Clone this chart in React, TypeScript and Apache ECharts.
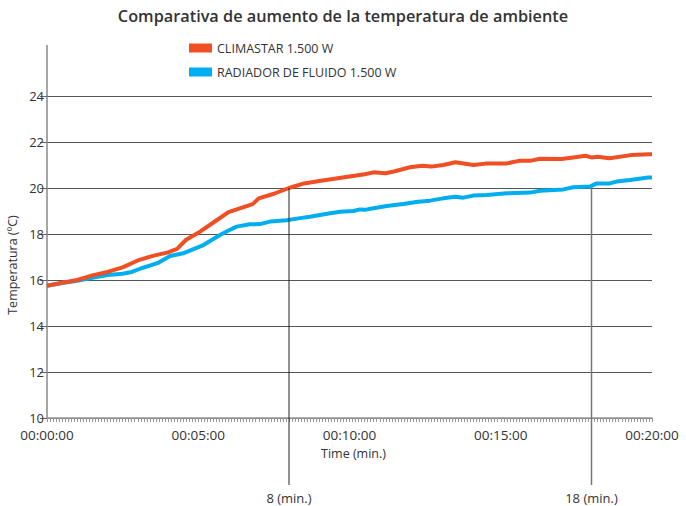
import React, { useEffect, useRef } from "react";
import * as echarts from "echarts";

const title = "Comparativa de aumento de la temperatura de ambiente";
const seriesNames = ["CLIMASTAR 1.500 W", "RADIADOR DE FLUIDO 1.500 W"];
const seriesColors = ["#F04E23", "#00AEEF"];

const climastarMinutes = [0, 0.5, 1, 1.5, 2, 2.5, 3, 3.5, 4, 4.3, 4.6, 5, 5.5, 6, 6.5, 6.8, 7, 7.5, 8, 8.5, 9, 9.5, 10, 10.5, 10.8, 11.2, 11.5, 12, 12.4, 12.7, 13.1, 13.5, 14.1, 14.5, 15.2, 15.6, 16, 16.3, 17, 17.4, 17.8, 18, 18.2, 18.6, 19.3, 19.9, 20];
const climastarTemps = [15.75, 15.88, 16.0, 16.2, 16.35, 16.55, 16.85, 17.05, 17.2, 17.35, 17.75, 18.05, 18.5, 18.95, 19.17, 19.3, 19.55, 19.75, 20.0, 20.2, 20.3, 20.4, 20.5, 20.6, 20.68, 20.64, 20.73, 20.9, 20.97, 20.93, 21.0, 21.12, 21.0, 21.06, 21.07, 21.18, 21.19, 21.27, 21.26, 21.33, 21.4, 21.33, 21.36, 21.29, 21.43, 21.47, 21.47];

const radiadorMinutes = [0, 0.5, 1, 1.5, 2, 2.5, 2.8, 3.1, 3.65, 4.07, 4.5, 5.17, 5.72, 6.0, 6.27, 6.7, 7.04, 7.37, 7.92, 8.31, 8.69, 9.36, 9.69, 10.13, 10.35, 10.5, 10.79, 11.23, 11.78, 12.27, 12.66, 13.1, 13.49, 13.76, 14.09, 14.54, 15.2, 15.97, 16.3, 17.07, 17.4, 17.95, 18.17, 18.6, 18.83, 19.27, 19.88, 20];
const radiadorTemps = [15.75, 15.87, 15.97, 16.1, 16.22, 16.27, 16.35, 16.5, 16.73, 17.04, 17.16, 17.52, 17.96, 18.15, 18.32, 18.42, 18.43, 18.54, 18.6, 18.68, 18.75, 18.9, 18.97, 19.0, 19.07, 19.05, 19.12, 19.22, 19.3, 19.4, 19.45, 19.55, 19.62, 19.58, 19.67, 19.7, 19.77, 19.8, 19.88, 19.94, 20.03, 20.06, 20.2, 20.2, 20.28, 20.35, 20.46, 20.46];

const markerMinutes = [8, 18];
const markerLabels = ["8 (min.)", "18 (min.)"];
const markerTopTemp = 20;

const xAxisName = "Time (min.)";
const yAxisName = "Temperatura (ºC)";

const FONT = "'Open Sans', sans-serif";

function fmtTime(v: number) {
  const m = Math.round(v);
  return "00:" + (m < 10 ? "0" + m : String(m)) + ":00";
}

export default function App() {
  const ref = useRef<HTMLDivElement>(null);
  useEffect(() => {
    if (!ref.current) return;
    const chart = echarts.init(ref.current, null, { renderer: "svg" });
    const option: any = {
      animation: false,
      backgroundColor: "#ffffff",
      textStyle: { fontFamily: FONT },
      title: {
        text: title,
        left: "center",
        top: 3,
        textStyle: { fontSize: 16.3, fontWeight: 600, color: "#333", fontFamily: FONT },
      },
      legend: {
        orient: "vertical",
        left: 189,
        top: 40,
        padding: 0,
        icon: "rect",
        itemWidth: 23,
        itemHeight: 9,
        itemGap: 8,
        textStyle: { fontSize: 12.5, color: "#333", fontFamily: FONT, lineHeight: 16 },
        data: seriesNames,
      },
      grid: { left: 47, right: 34, top: 96, bottom: 88, containLabel: false },
      xAxis: {
        type: "value",
        min: 0,
        max: 20,
        interval: 5,
        name: xAxisName,
        nameLocation: "middle",
        nameGap: 27,
        nameTextStyle: { fontSize: 12.5, color: "#333", fontFamily: FONT, padding: [0, 0, 0, 8] },
        axisLine: { show: true, lineStyle: { color: "#999", width: 1.5 } },
        axisTick: { show: true, length: 4, lineStyle: { color: "#999" } },
        minorTick: { show: true, splitNumber: 50, length: 4, lineStyle: { color: "#999" } },
        axisLabel: { formatter: fmtTime, fontSize: 13.5, lineHeight: 14, color: "#333", margin: 10, fontFamily: FONT },
        splitLine: { show: false },
      },
      yAxis: {
        type: "value",
        min: 10,
        max: 24,
        interval: 2,
        axisLine: { show: true, lineStyle: { color: "#888", width: 1.5 } },
        axisTick: { show: true, length: 7, lineStyle: { color: "#666" } },
        axisLabel: { fontSize: 13, lineHeight: 12, padding: [0, 0, 2, 0], color: "#333", margin: 3, fontFamily: FONT },
        splitLine: { show: true, lineStyle: { color: "#555", width: 1 } },
      },
      series: [
        {
          name: seriesNames[0],
          type: "line",
          data: climastarMinutes.map((m, i) => [m, climastarTemps[i]]),
          showSymbol: false,
          lineStyle: { color: seriesColors[0], width: 4 },
          itemStyle: { color: seriesColors[0] },
          z: 3,
        },
        {
          name: seriesNames[1],
          type: "line",
          data: radiadorMinutes.map((m, i) => [m, radiadorTemps[i]]),
          showSymbol: false,
          lineStyle: { color: seriesColors[1], width: 4 },
          itemStyle: { color: seriesColors[1] },
          z: 2,
        },
      ],
    };
    chart.setOption(option);

    const graphics: any[] = [];
    const p0 = chart.convertToPixel({ xAxisIndex: 0, yAxisIndex: 0 }, [0, 24]) as number[];
    const pBottom = chart.convertToPixel({ xAxisIndex: 0, yAxisIndex: 0 }, [0, 10]) as number[];
    graphics.push({
      type: "line",
      shape: { x1: p0[0], y1: p0[1] - 51, x2: p0[0], y2: p0[1] },
      style: { stroke: "#888", lineWidth: 1.5 },
      z: 1,
    });
    markerMinutes.forEach((m, i) => {
      const top = chart.convertToPixel({ xAxisIndex: 0, yAxisIndex: 0 }, [m, markerTopTemp]) as number[];
      graphics.push({
        type: "line",
        shape: { x1: top[0], y1: top[1], x2: top[0], y2: pBottom[1] + 67 },
        style: { stroke: i === 0 ? "#222" : "#777", lineWidth: i === 0 ? 1 : 1.5 },
        z: 5,
      });
      graphics.push({
        type: "text",
        x: top[0],
        y: pBottom[1] + 80,
        style: {
          text: markerLabels[i],
          fill: "#333",
          fontSize: 13,
          fontFamily: FONT,
          align: "center",
          verticalAlign: "middle",
        },
        z: 5,
      });
    });
    graphics.push({
      type: "text",
      x: 12,
      y: 265,
      rotation: Math.PI / 2,
      style: {
        text: yAxisName,
        fill: "#333",
        fontSize: 12.5,
        fontFamily: FONT,
        align: "center",
        verticalAlign: "middle",
      },
    });
    chart.setOption({ graphic: graphics });

    return () => chart.dispose();
  }, []);
  return (
    <div
      ref={ref}
      style={{ position: "absolute", left: 0, top: 0, width: 686, height: 506 }}
    />
  );
}
